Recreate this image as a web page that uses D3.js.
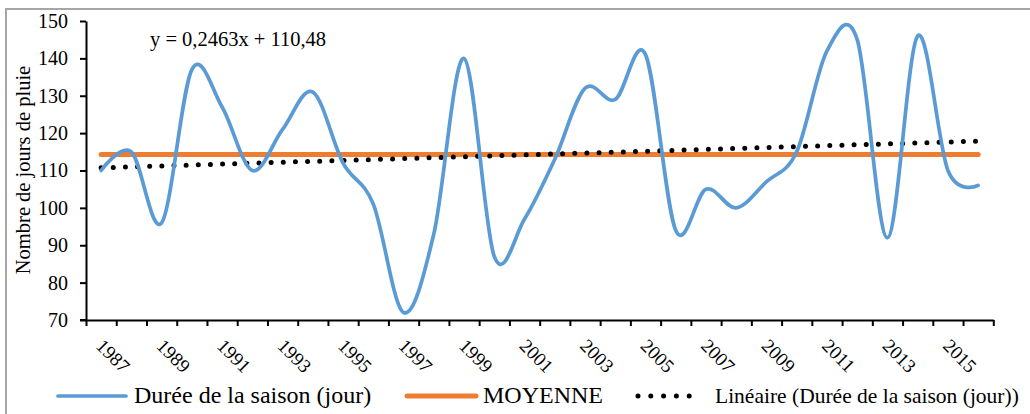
<!DOCTYPE html>
<html><head><meta charset="utf-8">
<script src="https://cdn.jsdelivr.net/npm/d3@7"></script>
<style>
html,body{margin:0;padding:0;background:#fff;}
svg{display:block;font-family:"Liberation Serif","Times New Roman",serif;}
</style></head>
<body><svg id="chart" width="1030" height="414"></svg>
<script>
const years = d3.range(1987, 2017);
const duree = [110,115,96,137,127,110,121,131,112,101,
               72,93,140,87,97,113,132,129,141,94,
               105,100,107,115,142,145,92,146,110,106];
const moyenne = 114.3;
const trendSlope = 0.2463, trendIntercept = 110.48;
const yTicks = [70,80,90,100,110,120,130,140,150];
const xLabelYears = years.filter(y => (y - 1987) % 2 === 0);
const equationText = "y = 0,2463x + 110,48";
const yTitle = "Nombre de jours de pluie";
const legendLabels = ["Durée de la saison (jour)", "MOYENNE", "Linéaire (Durée de la saison (jour))"];

const svg = d3.select("#chart");
const blue = "#5B9BD5", orange = "#ED7D31";

// frame
svg.append("rect").attr("x",6).attr("y",9).attr("width",1040).attr("height",420)
  .attr("fill","none").attr("stroke","#A6A6A6").attr("stroke-width",2);

const x = d3.scaleBand().domain(years).range([86, 993.3]).padding(0);
const xLin = d3.scaleLinear().domain([0, years.length]).range([86, 993.3]);
const y = d3.scaleLinear().domain([70,150]).range([320, 21]);
const cx = yr => x(yr) + x.bandwidth()/2;

// y axis
const ya = svg.append("g").attr("transform","translate(86,0)")
  .call(d3.axisLeft(y).tickValues(yTicks).tickSize(6).tickSizeOuter(0).tickPadding(12));
ya.select(".domain").attr("stroke","#000").attr("stroke-width",2);
ya.selectAll(".tick line").attr("stroke","#000").attr("stroke-width",2);
ya.selectAll(".tick text").attr("font-size",20).attr("font-family","Liberation Serif").attr("fill","#000");

// x axis ticks at category boundaries
const xa = svg.append("g").attr("transform","translate(0,320)")
  .call(d3.axisBottom(xLin).tickValues(d3.range(0, years.length+1)).tickFormat("").tickSize(6).tickSizeOuter(0));
xa.select(".domain").attr("stroke","#000").attr("stroke-width",2);
xa.selectAll(".tick line").attr("stroke","#000").attr("stroke-width",2);
svg.append("line").attr("x1",80).attr("x2",86).attr("y1",320).attr("y2",320).attr("stroke","#000").attr("stroke-width",2);

// x labels
const xl = svg.append("g").attr("transform","translate(0,320)")
  .call(d3.axisBottom(x).tickValues(xLabelYears).tickSize(0));
xl.select(".domain").remove();
xl.selectAll(".tick text")
  .attr("font-size",19).attr("font-family","Liberation Serif").attr("fill","#000")
  .attr("text-anchor","start").attr("x",0).attr("y",0).attr("dy",null)
  .attr("transform","translate(-6,27) rotate(45)");

// y title
svg.append("text").attr("transform","translate(30,170) rotate(-90)")
  .attr("text-anchor","middle").attr("font-size",20.5).attr("fill","#000").text(yTitle);

// mean line
svg.append("line").attr("x1",cx(years[0])).attr("x2",cx(years[years.length-1]))
  .attr("y1",y(moyenne)).attr("y2",y(moyenne))
  .attr("stroke",orange).attr("stroke-width",5).attr("stroke-linecap","round");

// trend line (dotted)
const n = years.length;
svg.append("line").attr("x1",cx(years[0])).attr("x2",cx(years[n-1]))
  .attr("y1",y(trendIntercept + trendSlope*1)).attr("y2",y(trendIntercept + trendSlope*n))
  .attr("stroke","#000").attr("stroke-width",5).attr("stroke-linecap","round")
  .attr("stroke-dasharray","0 12.15");

// data line
const line = d3.line().x((d,i)=>cx(years[i])).y(d=>y(d)).curve(d3.curveCardinal.tension(0));
svg.append("path").datum(duree).attr("d",line).attr("fill","none")
  .attr("stroke",blue).attr("stroke-width",3.7).attr("stroke-linejoin","round").attr("stroke-linecap","round");

// equation
svg.append("text").attr("x",150).attr("y",46).attr("font-size",20.5).attr("fill","#000").text(equationText);

// legend
const lg = svg.append("g");
lg.append("line").attr("x1",58).attr("x2",126).attr("y1",396).attr("y2",396)
  .attr("stroke",blue).attr("stroke-width",3.7).attr("stroke-linecap","round");
lg.append("text").attr("x",134).attr("y",403).attr("font-size",24).attr("fill","#000").text(legendLabels[0]);
lg.append("line").attr("x1",407).attr("x2",476).attr("y1",396).attr("y2",396)
  .attr("stroke",orange).attr("stroke-width",5).attr("stroke-linecap","round");
lg.append("text").attr("x",483).attr("y",403).attr("font-size",24).attr("fill","#000").text(legendLabels[1]);
lg.append("line").attr("x1",638).attr("x2",702).attr("y1",396).attr("y2",396)
  .attr("stroke","#000").attr("stroke-width",5).attr("stroke-linecap","round").attr("stroke-dasharray","0 12.8");
lg.append("text").attr("x",715).attr("y",403).attr("font-size",21.5).attr("fill","#000").text(legendLabels[2]);
</script></body></html>
